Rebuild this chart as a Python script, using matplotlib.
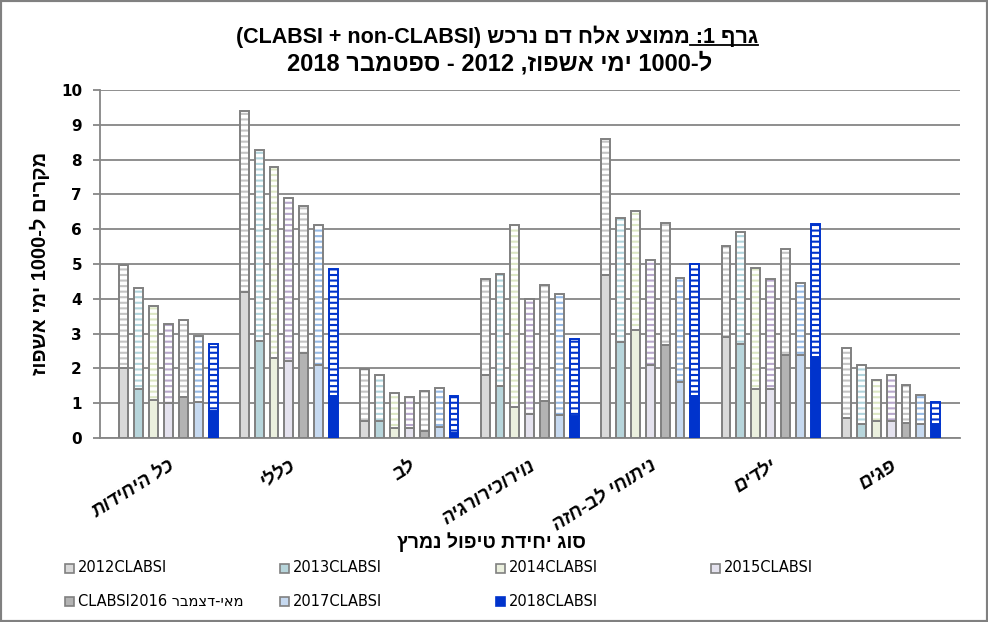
import numpy as np
import matplotlib
matplotlib.use('Agg')
import matplotlib.pyplot as plt
from matplotlib.patches import Rectangle
from matplotlib.lines import Line2D

plt.rcParams['hatch.linewidth'] = 1.5

def rev(s):
    # hebrew text -> visual (left to right) order
    return s[::-1]

# data
years = [2012, 2013, 2014, 2015, 2016, 2017, 2018]
categories = ['כל היחידות', 'כללי', 'לב', 'נוירוכירורגיה', 'ניתוחי לב-חזה', 'ילדים', 'פגים']

clabsi = [
    [2.00, 4.19, 0.49, 1.82, 4.69, 2.90, 0.58],  # 2012
    [1.40, 2.78, 0.49, 1.49, 2.77, 2.69, 0.39],  # 2013
    [1.09, 2.30, 0.29, 0.89, 3.10, 1.40, 0.49],  # 2014
    [1.01, 2.21, 0.29, 0.69, 2.09, 1.40, 0.49],  # 2015
    [1.18, 2.45, 0.20, 1.06, 2.67, 2.38, 0.42],  # 2016
    [1.03, 2.11, 0.32, 0.65, 1.62, 2.38, 0.39],  # 2017
    [0.77, 1.20, 0.15, 0.63, 1.20, 2.32, 0.39],  # 2018
]
non_clabsi = [
    [2.96, 5.21, 1.50, 2.76, 3.91, 2.61, 2.00],
    [2.90, 5.51, 1.32, 3.21, 3.54, 3.22, 1.70],
    [2.69, 5.49, 1.00, 5.22, 3.41, 3.49, 1.19],
    [2.28, 4.70, 0.89, 3.29, 3.02, 3.18, 1.32],
    [2.20, 4.23, 1.15, 3.33, 3.50, 3.06, 1.10],
    [1.91, 4.00, 1.11, 3.48, 2.99, 2.08, 0.84],
    [1.94, 3.65, 1.05, 2.21, 3.80, 3.82, 0.64],
]
legend_labels = ['2012CLABSI', '2013CLABSI', '2014CLABSI', '2015CLABSI',
                 'CLABSI2016 ' + rev('מאי-דצמבר'), '2017CLABSI', '2018CLABSI']

solid_colors = ['#d9d9d9', '#b7d5db', '#ebf0de', '#e4e2ee', '#b3b3b3', '#c6d9f0', '#0033cc']
stripe_colors = ['#c4c4c4', '#b0d4dc', '#dce7c4', '#b8a8cc', '#c4c4c4', '#95b9e5', '#0033cc']
edge_colors = ['#808080'] * 6 + ['#0033cc']
grey = '#868686'

title1 = '(CLABSI + non-CLABSI) ' + rev('ממוצע אלח דם נרכש') + ' :1 ' + rev('גרף')
title1_under = ' :1 ' + rev('גרף')
title2 = '2018 ' + rev('ספטמבר') + ' - 2012 ,' + rev('אשפוז') + ' ' + rev('ימי') + ' 1000-' + rev('ל')
ylab = rev('אשפוז') + ' ' + rev('ימי') + ' 1000-' + rev('ל') + ' ' + rev('מקרים')
xlab = rev('סוג יחידת טיפול נמרץ')

heb = ['Liberation Sans', 'DejaVu Sans']

fig = plt.figure(figsize=(9.88, 6.22), dpi=100)
W, H = 988, 622
ax = fig.add_axes([100 / W, 184 / H, 860 / W, 348 / H])

x = np.arange(len(categories))
pitch = 0.1236
width = 0.074
for j in range(len(years)):
    pos = x + (j - 3) * pitch
    ax.bar(pos, clabsi[j], width, color=solid_colors[j], edgecolor=edge_colors[j],
           linewidth=1.4, zorder=3)
    ax.bar(pos, non_clabsi[j], width, bottom=clabsi[j], color='white',
           edgecolor=stripe_colors[j], hatch='---', linewidth=0, zorder=3)
    ax.bar(pos, non_clabsi[j], width, bottom=clabsi[j], fill=False,
           edgecolor=edge_colors[j], linewidth=1.4, zorder=4)

ax.set_xlim(-0.568, 6.572)
ax.set_ylim(0, 10)
ax.set_yticks(range(0, 11))
ax.yaxis.grid(True, color=grey, linewidth=1.3)
ax.set_axisbelow(True)
for s in ['top', 'right']:
    ax.spines[s].set_visible(False)
for s in ['left', 'bottom']:
    ax.spines[s].set_color(grey)
    ax.spines[s].set_linewidth(1.3)
ax.tick_params(axis='y', length=5, width=1.3, color=grey, pad=8)
ax.tick_params(axis='x', length=0, pad=14)
for lab in ax.get_yticklabels():
    lab.set_fontfamily('DejaVu Sans')
    lab.set_fontweight('bold')
    lab.set_fontsize(11)
ax.set_xticks(x)
ax.set_xticklabels([rev(c) for c in categories], rotation=32, ha='right',
                   rotation_mode='anchor', family=heb, fontweight='bold',
                   fontstyle='italic', fontsize=13.5)

# titles
t1 = fig.text(497 / W, 1 - 37 / H, title1, ha='center', va='center', family=heb,
              fontweight='bold', fontsize=15.5)
fig.text(500 / W, 1 - 64 / H, title2, ha='center', va='center', family=heb,
         fontweight='bold', fontsize=17)
fig.text(491 / W, 1 - 542 / H, xlab, ha='center', va='center', family=heb,
         fontweight='bold', fontsize=14)
fig.text(40 / W, 1 - 263 / H, ylab, ha='center', va='center', rotation=90,
         family=heb, fontweight='bold', fontsize=14.5)

# underline for the first words of the title
fig.canvas.draw()
r = fig.canvas.get_renderer()
bb = t1.get_window_extent(r)
tmp = fig.text(0, 0, title1_under, family=heb, fontweight='bold', fontsize=15.5)
uw = tmp.get_window_extent(r).width
tmp.remove()
uy = (bb.y0 + 3) / H
fig.add_artist(Line2D([(bb.x1 - uw) / W, bb.x1 / W], [uy, uy],
                      transform=fig.transFigure, color='black', linewidth=1.3))

# legend, 4 columns laid out like the original
col_x = [65, 280, 496, 711]
row_y = [568, 601]
for j, lab in enumerate(legend_labels):
    cx = col_x[j % 4]
    cy = row_y[j // 4]
    fig.add_artist(Rectangle((cx / W, 1 - (cy + 4.5) / H), 9 / W, 9 / H,
                             transform=fig.transFigure, facecolor=solid_colors[j],
                             edgecolor=edge_colors[j], linewidth=1.2))
    fig.text((cx + 13) / W, 1 - cy / H, lab, ha='left', va='center',
             family=['DejaVu Sans'], fontsize=10.5)

# outer border
fig.add_artist(Rectangle((0, 0), 1, 1, transform=fig.transFigure, fill=False,
                         edgecolor='#808080', linewidth=3))

fig.savefig('out.png', dpi=100)
